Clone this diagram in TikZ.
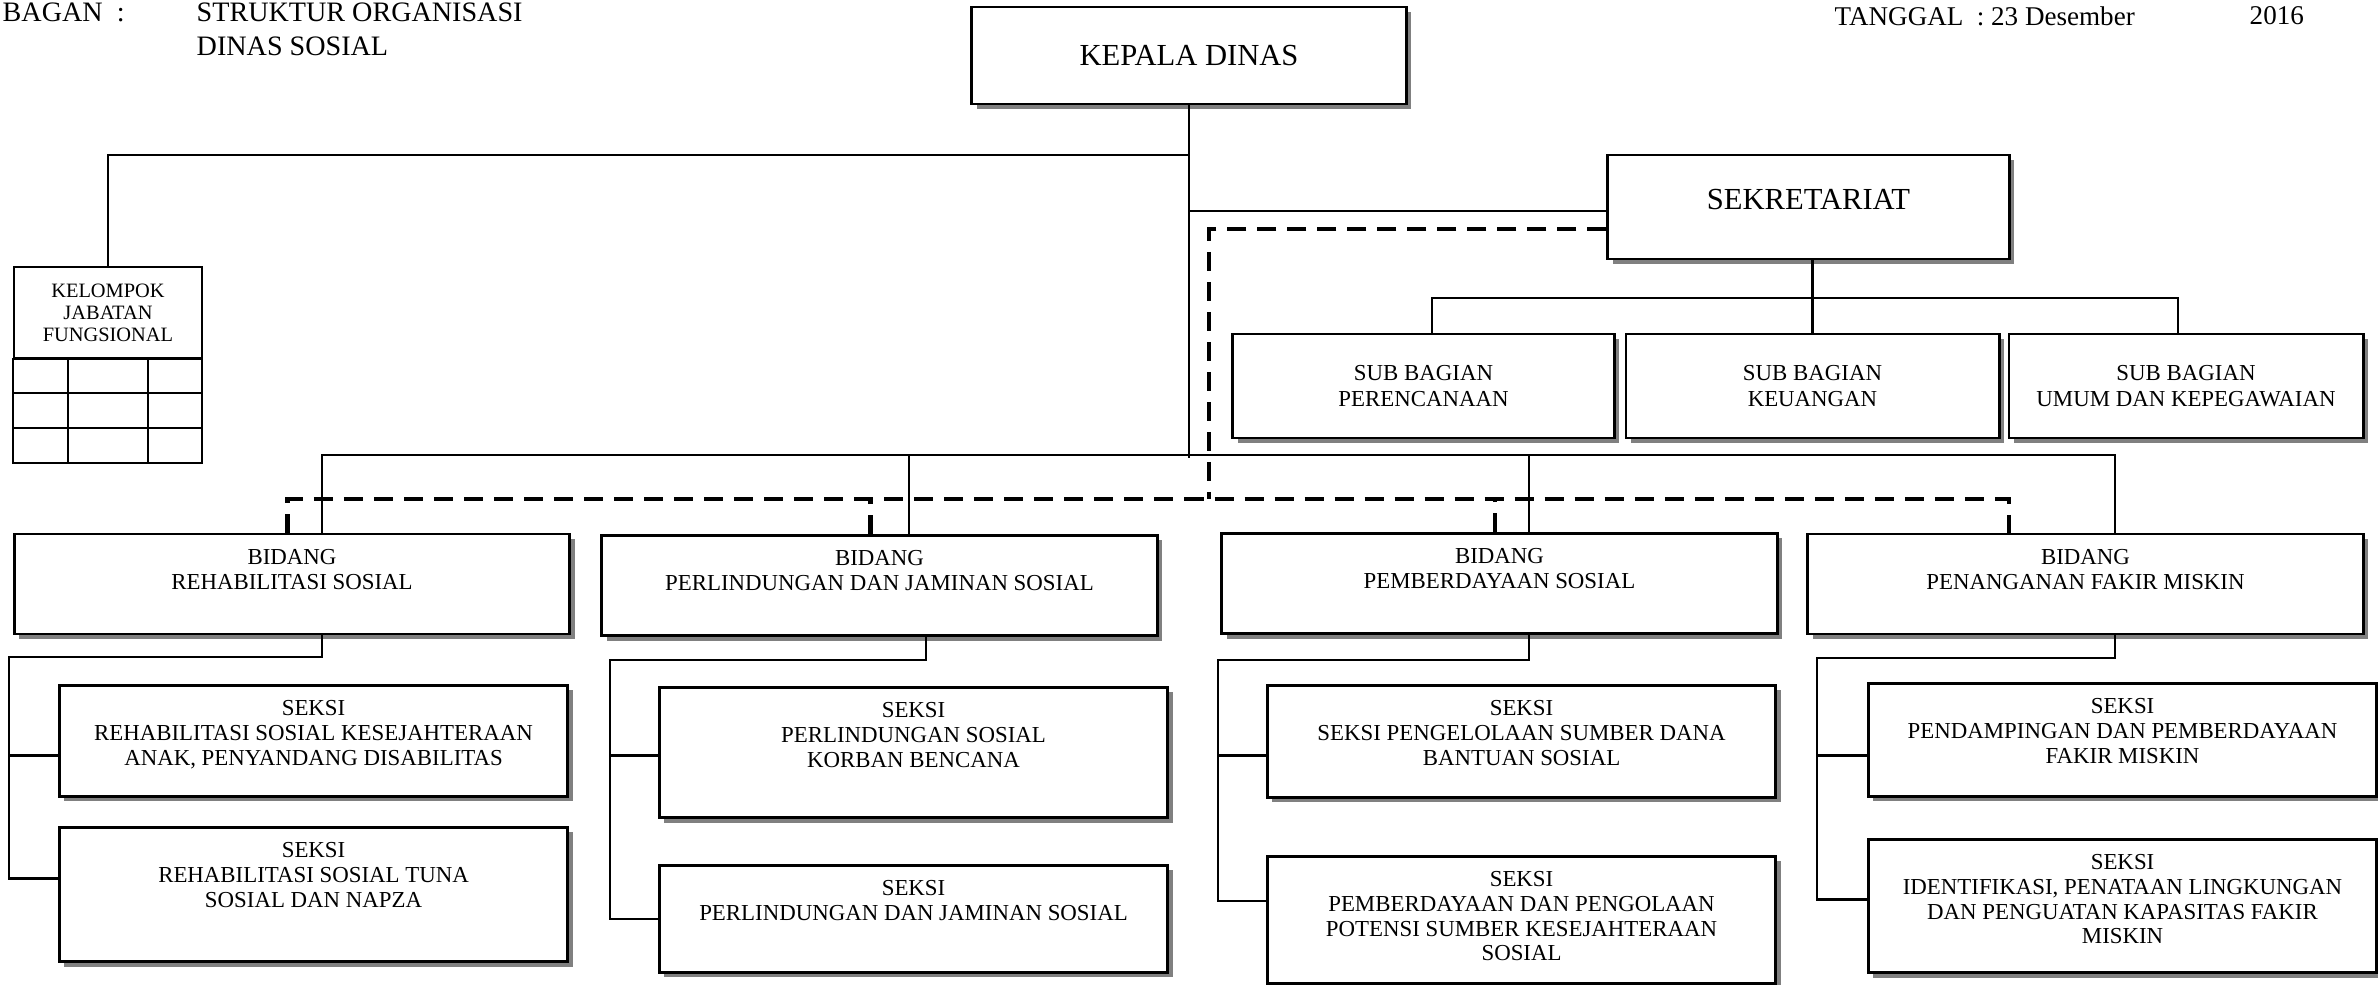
\documentclass[tikz,border=0pt]{standalone}
\usepackage{fontspec}
\setmainfont{Liberation Serif}
\usepackage{tikz}
\usetikzlibrary{positioning,shadows}
\definecolor{ShadowGray}{HTML}{808080}

\begin{document}
\begin{tikzpicture}[
    x=0.01cm, y=-0.01cm,
    kotak/.style={
        draw,
        line width=0.8pt,
        fill=white,
        inner sep=0pt,
        drop shadow={shadow xshift=0.05cm, shadow yshift=-0.05cm, fill=ShadowGray, opacity=1}
    },
    pimpinan/.style={
        kotak,
        font=\fontsize{8.7}{10}\selectfont
    },
    subbag/.style={
        kotak,
        minimum height=1.04cm,
        align=center,
        font=\fontsize{6.5}{7.4}\selectfont
    },
    bidang/.style={
        kotak,
        minimum width=5.55cm,
        minimum height=1.0cm
    },
    seksi/.style={
        kotak,
        minimum width=5.08cm,
        anchor=north west
    },
    isi/.style={
        anchor=north,
        yshift=-0.16cm,
        inner sep=0pt,
        align=center,
        font=\fontsize{6.5}{7}\selectfont
    },
    judul/.style={
        inner sep=0pt,
        anchor=north west,
        align=left,
        font=\fontsize{8}{9.7}\selectfont
    },
    tanggal/.style={
        inner sep=0pt,
        anchor=north west,
        font=\fontsize{7.7}{9}\selectfont
    },
    garis/.style={line width=0.6pt},
    koord/.style={line width=1.2pt, dash pattern=on 0.19cm off 0.11cm},
    tabel/.style={line width=0.6pt}
]

\useasboundingbox (0,0) rectangle (2378,984);

% ---------------------------------------------------------
% Kepala bagan
% ---------------------------------------------------------

\node[judul] (bagan) at (2,2) {BAGAN\ \ :};
\node[judul] (nama) at (196,2) {STRUKTUR ORGANISASI\\DINAS SOSIAL};

\node[tanggal] (tgl) at (1834,6) {TANGGAL\ \ : 23 Desember};
\node[tanggal] (thn) at (2249,6) {2016};

% ---------------------------------------------------------
% Pimpinan dan sekretariat
% ---------------------------------------------------------

\node[pimpinan, minimum width=4.34cm, minimum height=0.97cm] (kd) at (1189,55.5)
{KEPALA DINAS};

\node[pimpinan, minimum width=4.01cm, minimum height=1.04cm, text depth=0.16cm] (sek) at (1808.5,207)
{SEKRETARIAT};

\node[subbag, minimum width=3.81cm] (per) at (1423.5,386)
{SUB BAGIAN\\PERENCANAAN};

\node[subbag, minimum width=3.73cm] (keu) at (1812.5,386)
{SUB BAGIAN\\KEUANGAN};

\node[subbag, minimum width=3.54cm] (umum) at (2186,386)
{SUB BAGIAN\\UMUM DAN KEPEGAWAIAN};

% kelompok jabatan fungsional
\node[draw, line width=0.6pt, minimum width=1.88cm, minimum height=0.91cm,
      anchor=north, align=center, inner sep=0pt,
      font=\fontsize{5.8}{6.3}\selectfont] (kjf) at (108,266)
{KELOMPOK\\JABATAN\\FUNGSIONAL};

\draw[tabel] (kjf.south west) rectangle (202,463);
\foreach \y in {393,428}
    \draw[tabel] (14,\y) -- (202,\y);
\foreach \x in {68,148}
    \draw[tabel] (\x,357) -- (\x,463);

% ---------------------------------------------------------
% Bidang
% ---------------------------------------------------------

\node[bidang, label={[isi]north:BIDANG\\REHABILITASI SOSIAL}] (b1) at (292,584) {};

\node[bidang, label={[isi]north:BIDANG\\PERLINDUNGAN DAN JAMINAN SOSIAL}] (b2) at (879.5,585.5) {};

\node[bidang, label={[isi]north:BIDANG\\PEMBERDAYAAN SOSIAL}] (b3) at (1499.5,583.5) {};

\node[bidang, label={[isi]north:BIDANG\\PENANGANAN FAKIR MISKIN}] (b4) at (2085.5,584) {};

% ---------------------------------------------------------
% Seksi
% ---------------------------------------------------------

\node[seksi, minimum height=1.11cm,
      label={[isi]north:SEKSI\\REHABILITASI SOSIAL KESEJAHTERAAN\\ANAK, PENYANDANG DISABILITAS}]
      (s1a) at (58,684) {};

\node[seksi, minimum height=1.34cm,
      label={[isi]north:SEKSI\\REHABILITASI SOSIAL TUNA\\SOSIAL DAN NAPZA}]
      (s1b) at (58,826) {};

\node[seksi, minimum height=1.30cm,
      label={[isi]north:SEKSI\\PERLINDUNGAN SOSIAL\\KORBAN BENCANA}]
      (s2a) at (658,686) {};

\node[seksi, minimum height=1.07cm,
      label={[isi]north:SEKSI\\PERLINDUNGAN DAN JAMINAN SOSIAL}]
      (s2b) at (658,864) {};

\node[seksi, minimum height=1.12cm,
      label={[isi]north:SEKSI\\SEKSI PENGELOLAAN SUMBER DANA\\BANTUAN SOSIAL}]
      (s3a) at (1266,684) {};

\node[seksi, minimum height=1.27cm,
      label={[isi]north:SEKSI\\PEMBERDAYAAN DAN PENGOLAAN\\POTENSI SUMBER KESEJAHTERAAN\\SOSIAL}]
      (s3b) at (1266,855) {};

\node[seksi, minimum height=1.13cm,
      label={[isi]north:SEKSI\\PENDAMPINGAN DAN PEMBERDAYAAN\\FAKIR MISKIN}]
      (s4a) at (1867,682) {};

\node[seksi, minimum height=1.33cm,
      label={[isi]north:SEKSI\\IDENTIFIKASI, PENATAAN LINGKUNGAN\\DAN PENGUATAN KAPASITAS FAKIR\\MISKIN}]
      (s4b) at (1867,838) {};

% ---------------------------------------------------------
% Garis komando
% ---------------------------------------------------------

\coordinate (pusat) at (1189,458);
\coordinate (cab) at (1189,155);
\coordinate (subbar) at (1815,298);
\coordinate (bidbar) at (1189,455);

\draw[garis] (kd.south) -- (pusat);
\draw[garis] (cab) -| (kjf.north);
\draw[garis] ([yshift=-0.04cm]sek.west) -| (pusat);

\draw[garis] (keu.north |- sek.south) -- (keu.north);
\draw[garis] (per.81) |- (subbar) -| (umum.99);

\draw[garis] (b1.60) |- (bidbar) -| (b4.60);
\draw[garis] (b2.60) -- (b2.60 |- bidbar);
\draw[garis] (b3.60) -- (b3.60 |- bidbar);

% bidang ke seksi
\coordinate (r1) at (9,657);
\coordinate (r2) at (610,660);
\coordinate (r3) at (1218,660);
\coordinate (r4) at (1817,658);

\draw[garis] (b1.-60) |- (r1) |- ([yshift=0.16cm]s1b.west);
\draw[garis] ([yshift=-0.145cm]s1a.west) -| (r1);

\draw[garis] (b2.-48) |- (r2) |- (s2b.west);
\draw[garis] ([yshift=-0.03cm]s2a.west) -| (r2);

\draw[garis] (b3.-60) |- (r3) |- ([yshift=0.19cm]s3b.west);
\draw[garis] ([yshift=-0.14cm]s3a.west) -| (r3);

\draw[garis] (b4.-60) |- (r4) |- ([yshift=0.065cm]s4b.west);
\draw[garis] ([yshift=-0.155cm]s4a.west) -| (r4);

% ---------------------------------------------------------
% Garis koordinasi
% ---------------------------------------------------------

\coordinate (dk) at (1209,499);

\draw[koord] ([yshift=-0.22cm]sek.west) -| (dk);
\draw[koord] (b1.95) |- (dk) -| (b4.146);
\draw[koord] (b2.100) -- (b2.100 |- dk);
\draw[koord] (b3.95) -- (b3.95 |- dk);

\end{tikzpicture}
\end{document}
